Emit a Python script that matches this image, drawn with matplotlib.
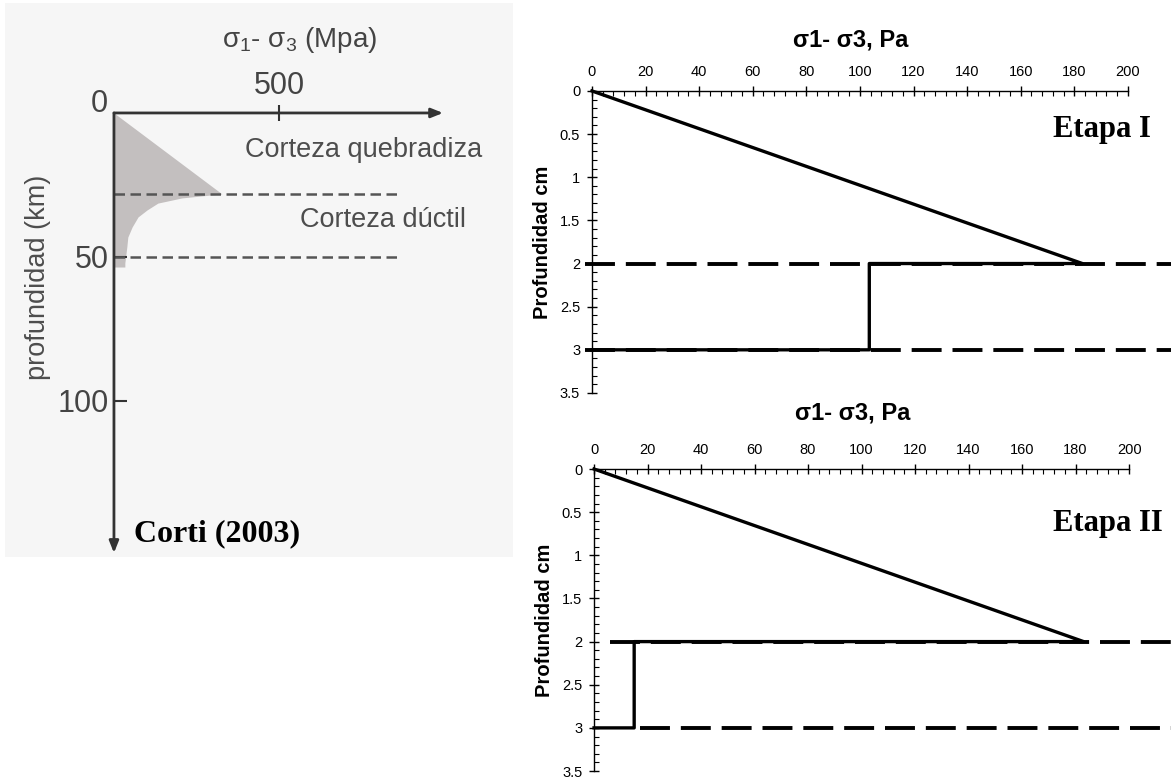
import matplotlib
matplotlib.use('Agg')
import matplotlib.pyplot as plt
from matplotlib.ticker import MultipleLocator, FormatStrFormatter

plt.rcParams['font.family'] = ['Liberation Sans', 'DejaVu Sans']
plt.rcParams['mathtext.fontset'] = 'custom'
plt.rcParams['mathtext.rm'] = 'Liberation Sans'

SERIF = ['Liberation Serif', 'DejaVu Serif']

# Corti (2003) strength envelope (MPa vs km)
env_stress = [0, 327, 206, 133, 100, 73, 55, 42, 39, 33, 33]
env_depth = [0, 28.1, 29.5, 31.3, 33.7, 36.1, 39.6, 43.1, 46.5, 52.1, 53.5]
layer_km = [28, 50]
km_ticks = [50, 100]
mpa_ticks = [500]

# model profiles (Pa vs cm)
stage_names = ['Etapa I', 'Etapa II']
stage_stress = [[0, 183, 103.5, 103.5, 0],
                [0, 183, 15, 15, 0]]
stage_depth = [[0, 2, 2, 3, 3],
               [0, 2, 2, 3, 3]]
layer_cm = [2, 3]
dash_from = [[-2.6, -2.6], [6, 17]]

fig = plt.figure(figsize=(11.71, 7.8), dpi=100)

# ---- left: Corti (2003) ----
ax = fig.add_axes([0.0043, 0.2859, 0.4338, 0.7103])
ax.set_facecolor('#f6f6f6')
ax.set_xlim(-330, 1209)
ax.set_ylim(154.2, -38.2)

ax.fill_betweenx(env_depth, 0, env_stress, color='#c3bfbf', lw=0)
for d in layer_km:
    ax.plot([0, 867], [d, d], color='#555555', lw=1.8, ls=(0, (4.2, 2.2)))

arrow = dict(arrowstyle='-|>,head_length=0.7,head_width=0.28', color='#333333',
             lw=2, shrinkA=0, shrinkB=0)
ax.annotate('', xy=(997, 0), xytext=(0, 0), arrowprops=arrow)
ax.annotate('', xy=(0, 152.8), xytext=(0, 0), arrowprops=arrow)

for s in ax.spines.values():
    s.set_visible(False)
ax.spines['top'].set_position(('data', 0))
ax.spines['left'].set_position(('data', 0))
ax.xaxis.tick_top()
ax.set_xticks(mpa_ticks)
ax.set_xticklabels([str(v) for v in mpa_ticks])
ax.set_yticks(km_ticks)
ax.set_yticklabels([str(v) for v in km_ticks])
ax.tick_params(axis='x', direction='inout', length=11, width=1.5, color='#333333',
               labelsize=22, labelcolor='#444444', pad=3)
ax.tick_params(axis='y', direction='in', length=9, width=1.5, color='#333333',
               labelsize=22, labelcolor='#444444', pad=4)

ax.text(-45, -3.1, '0', fontsize=22, color='#444444', ha='center', va='center')
ax.text(564, -25.3, r'$\mathregular{σ_1}$- $\mathregular{σ_3}$ (Mpa)', fontsize=20,
        color='#444444', ha='center', va='center')
ax.text(397, 12.8, 'Corteza quebradiza', fontsize=19.5, color='#4d4d4d', va='center')
ax.text(564, 37.2, 'Corteza dúctil', fontsize=19.5, color='#4d4d4d', va='center')
ax.text(-230, 57, 'profundidad (km)', fontsize=19.5, color='#4d4d4d', rotation=90,
        ha='center', va='center')
ax.text(61, 146, 'Corti (2003)', fontsize=23, fontweight='bold', family=SERIF,
        va='center')

# ---- right: model stages ----
positions = [[0.5055, 0.4962, 0.4577, 0.3872],
             [0.5073, 0.0115, 0.4569, 0.3872]]
title_y = [1.17, 1.185]
label_xy = [(0.86, 0.871), (0.858, 0.821)]

for i, name in enumerate(stage_names):
    ax = fig.add_axes(positions[i])
    ax.set_xlim(0, 200)
    ax.set_ylim(3.5, 0)
    for d, x0 in zip(layer_cm, dash_from[i]):
        ax.plot([x0, 216], [d, d], color='k', lw=2.8, ls=(0, (7.7, 2.8)),
                clip_on=False, zorder=2)
    ax.plot(stage_stress[i], stage_depth[i], color='k', lw=2.4, clip_on=False,
            zorder=3)

    ax.spines['right'].set_visible(False)
    ax.spines['bottom'].set_visible(False)
    ax.spines['top'].set_linewidth(1)
    ax.spines['left'].set_linewidth(1)
    ax.xaxis.tick_top()
    ax.xaxis.set_major_locator(MultipleLocator(20))
    ax.xaxis.set_minor_locator(MultipleLocator(4))
    ax.yaxis.set_major_locator(MultipleLocator(0.5))
    ax.yaxis.set_minor_locator(MultipleLocator(0.1))
    ax.yaxis.set_major_formatter(FormatStrFormatter('%g'))
    ax.tick_params(which='major', direction='inout', length=7, width=1, labelsize=10.5)
    ax.tick_params(which='minor', direction='in', length=3.5, width=0.8)
    ax.tick_params(axis='both', which='major', pad=5)

    ax.text(0.483, title_y[i], 'σ1- σ3, Pa', transform=ax.transAxes, fontsize=17,
            fontweight='bold', ha='center', va='center')
    ax.text(-0.093, 0.5, 'Profundidad cm', transform=ax.transAxes, fontsize=14.5,
            fontweight='bold', rotation=90, ha='center', va='center')
    ax.text(label_xy[i][0], label_xy[i][1], name, transform=ax.transAxes, fontsize=22,
            fontweight='bold', family=SERIF, ha='left', va='center')

fig.savefig('out.png', dpi=100)
